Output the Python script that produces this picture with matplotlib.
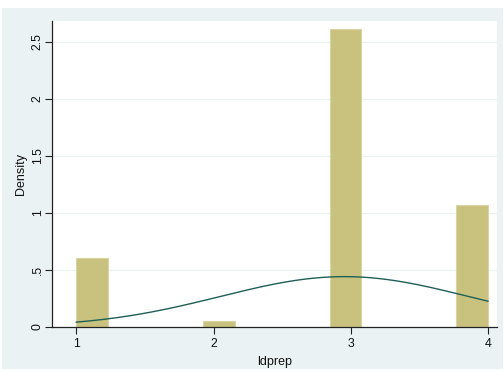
import numpy as np
import matplotlib
matplotlib.use("Agg")
import matplotlib.pyplot as plt
from matplotlib.patches import Rectangle

plt.rcParams['font.family'] = ['Liberation Sans', 'DejaVu Sans']

# Data
bin_start = 1.0
bin_end = 4.0
n_bins = 13
bin_index = [0, 4, 8, 12]            # non-empty bins
density = [0.608, 0.050, 2.611, 1.067]
categories = [1, 2, 3, 4]            # ldprep values
xticks = [1, 2, 3, 4]
yticks = [0, 0.5, 1, 1.5, 2, 2.5]
ytick_labels = ["0", ".5", "1", "1.5", "2", "2.5"]

width = (bin_end - bin_start) / n_bins
probs = np.array(density) * width
probs = probs / probs.sum()
cats = np.array(categories, dtype=float)
mean = float((probs * cats).sum())
sd = float(np.sqrt((probs * (cats - mean) ** 2).sum()))

fig = plt.figure(figsize=(5.04, 3.72), dpi=100, facecolor='white')
W, H = 504, 372
bg = Rectangle((2 / W, (H - 369) / H), 501 / W, 361 / H,
               transform=fig.transFigure, facecolor='#EAF2F3',
               edgecolor='none', zorder=-10)
fig.add_artist(bg)

ax = fig.add_axes([52 / W, (H - 327) / H, 445 / W, 306 / H])
ax.set_zorder(1)
ax.set_facecolor('white')

lefts = [bin_start + i * width for i in bin_index]
ax.bar(lefts, density, width=width, align='edge', color='#C9C27F',
       edgecolor='#D9D4A3', linewidth=0.8, zorder=2)

xs = np.linspace(bin_start, bin_end, 300)
ys = np.exp(-(xs - mean) ** 2 / (2 * sd ** 2)) / (sd * np.sqrt(2 * np.pi))
ax.plot(xs, ys, color='#1F5F55', linewidth=1.0, zorder=3)

ax.set_xlim(0.823, 4.066)
ax.set_ylim(0, 2.682)
ax.set_xticks(xticks)
ax.set_xticklabels([str(t) for t in xticks])
ax.set_yticks(yticks)
ax.set_yticklabels(ytick_labels, rotation=90, va='center')
ax.yaxis.grid(True, color='#EAF2F3', linewidth=0.8, zorder=1)
ax.set_axisbelow(True)

for s in ['top', 'right']:
    ax.spines[s].set_visible(False)
for s in ['left', 'bottom']:
    ax.spines[s].set_color('#222222')
    ax.spines[s].set_linewidth(0.9)
ax.tick_params(axis='both', direction='out', length=5, width=0.8,
               color='#222222', labelsize=8.8, labelcolor='#111111')
ax.tick_params(axis='y', pad=1)
ax.tick_params(axis='x', pad=3)

ax.set_xlabel('ldprep', fontsize=9, color='#111111', labelpad=4)
ax.set_ylabel('Density', fontsize=9, color='#111111', labelpad=3)

fig.savefig('out.png', dpi=100, facecolor='white')
